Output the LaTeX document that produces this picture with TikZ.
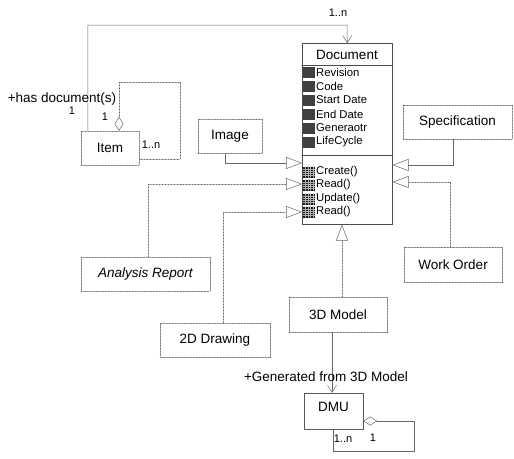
\documentclass[tikz,border=0pt]{standalone}
\usepackage{fontspec}
\setmainfont{Liberation Sans}
\usetikzlibrary{arrows.meta}

\begin{document}
\begin{tikzpicture}[x=1pt,y=-1pt,line cap=round,
  cls/.style={draw=black!65,line width=0.5pt,densely dotted,inner sep=0pt,font=\fontsize{13.5}{16}\selectfont},
  lnk/.style={draw=black!60,line width=0.5pt},
  gen/.style={lnk,-{Triangle[open,length=16pt,width=12pt]}},
  agg/.style={lnk,{Diamond[open,length=14pt,width=9pt]}-},
  lbl/.style={font=\fontsize{13.5}{16}\selectfont,inner sep=0pt},
  mult/.style={font=\fontsize{11}{13}\selectfont,inner sep=0pt},
  attr/.style={font=\fontsize{11.3}{13}\selectfont,inner sep=0pt,anchor=west}]
\useasboundingbox (0,0) rectangle (514,458);
\node[draw=black!70,line width=0.6pt,minimum width=90pt,minimum height=181pt,inner sep=0pt,anchor=north west] (doc) at (302,43) {};
\node[lbl] (doctitle) at (347,55) {Document};
\draw[black!70,line width=0.6pt] ([yshift=-22pt]doc.north west) -- ([yshift=-22pt]doc.north east);
\draw[black!70,line width=0.6pt] ([yshift=-112pt]doc.north west) -- ([yshift=-112pt]doc.north east);
\foreach \t/\y in {Revision/72,Code/86,Start Date/100,End Date/114,Generaotr/128,LifeCycle/142}{
  \fill[black!75] (303,\y-5.5) rectangle (315,\y+5.5);
  \node[attr] (a\y) at (316,\y) {\t};
}
\foreach \t/\y in {Create()/172,Read()/185,Update()/199,Read()/212}{
  \fill[black!90] (303,\y-5.5) rectangle (315,\y+5.5);
  \foreach \k in {1,...,4}{
    \draw[white!70!black,line width=0.15pt] (303+2.4*\k,\y-5.5) -- (303+2.4*\k,\y+5.5);
    \draw[white!70!black,line width=0.15pt] (303,\y-5.5+2.2*\k) -- (315,\y-5.5+2.2*\k);
  }
  \node[attr] (m\y) at (316,\y) {\t};
}
\node[cls,minimum width=58pt,minimum height=34pt] (item) at (110,148) {Item};
\node[cls,minimum width=64pt,minimum height=34pt] (image) at (230,136) {Image};
\node[cls,minimum width=129pt,minimum height=34pt,font=\fontsize{13.5}{16}\selectfont\itshape] (analysis) at (145.5,274) {Analysis Report};
\node[cls,minimum width=110pt,minimum height=34pt] (drawing) at (215,340) {2D Drawing};
\node[cls,minimum width=109pt,minimum height=34pt] (spec) at (457.5,122) {Specification};
\node[cls,minimum width=98pt,minimum height=35pt] (work) at (453,264.5) {Work Order};
\node[cls,minimum width=98pt,minimum height=35pt] (model) at (338,314.5) {3D Model};
\node[cls,solid,minimum width=59pt,minimum height=36pt,text depth=8pt] (dmu) at (333.5,411) {DMU};
\coordinate (top) at (347,25);
\draw[lnk,-{Straight Barb[length=7pt,width=9pt]}] ([xshift=7pt]item.north west) |- (top) -- (doc.north);
\node[mult] (m1) at (338,13) {1..n};
\node[lbl] (has) at (62,99) {+has document(s)};
\node[mult] (m2) at (72,111) {1};
\draw[agg,densely dotted] ([xshift=9pt]item.north) -- (119,82) -- (180,82) -- (180,159) -- ([yshift=-11pt]item.east);
\node[mult] (m3) at (105,117) {1};
\node[mult] (m4) at (151,145) {1..n};
\draw[gen] ([xshift=-5pt]image.south) |- ([yshift=-120pt]doc.north west);
\draw[gen,densely dotted] ([xshift=2.5pt]analysis.north) |- ([yshift=-141pt]doc.north west);
\draw[gen,densely dotted] ([xshift=8pt]drawing.north) |- ([yshift=-169pt]doc.north west);
\draw[gen] ([xshift=-4.5pt]spec.south) |- ([yshift=-122pt]doc.north east);
\draw[gen,densely dotted] ([xshift=-3pt]work.north) |- ([yshift=-139pt]doc.north east);
\draw[gen,densely dotted] ([xshift=4pt]model.north) -- ([xshift=4pt]model.north |- doc.south);
\draw[agg,-{Straight Barb[length=7pt,width=9pt]}] ([xshift=-6pt]model.south) -- ([xshift=-6pt]model.south |- dmu.north);
\node[lbl] (gen3d) at (326,377) {+Generated from 3D Model};
\draw[agg] ([yshift=-10pt]dmu.east) -- (414,421) -- (414,451) -| (dmu.south);
\node[mult] (m5) at (343,439) {1..n};
\node[mult] (m6) at (373,438) {1};
\end{tikzpicture}
\end{document}
